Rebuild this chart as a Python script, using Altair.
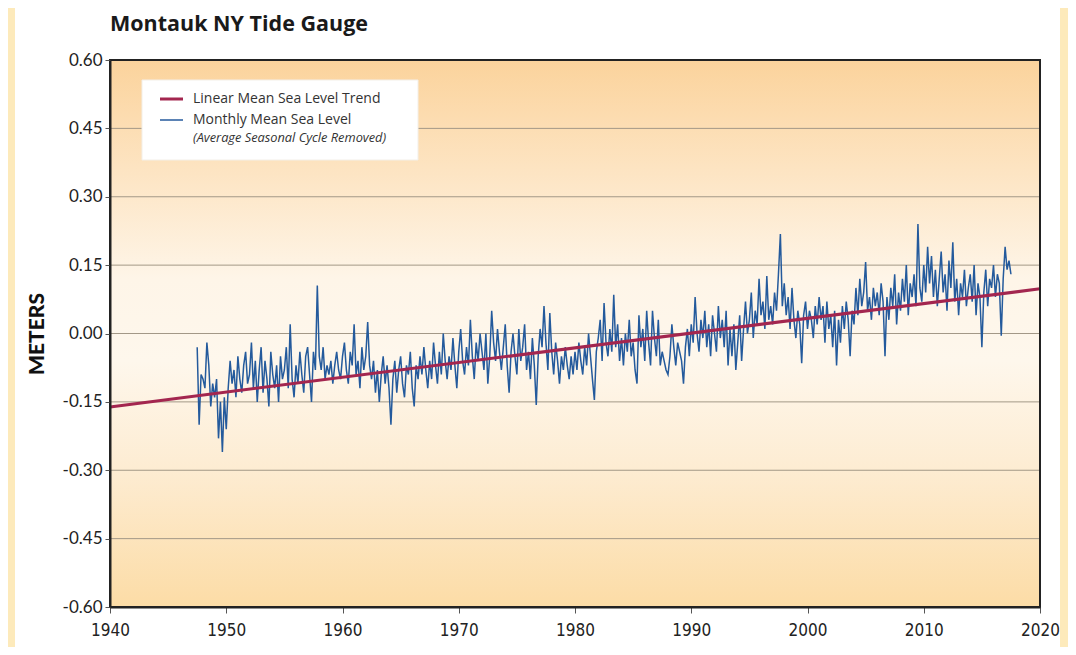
import altair as alt
import pandas as pd

# Monthly mean sea level (seasonal cycle removed), meters
# sampled every 1/6 year starting 1947.5
msl_start = 1947.5
msl_per_year = 6
msl = [
    -0.03, -0.20, -0.09,                          # 1947
    -0.10, -0.12, -0.02, -0.07, -0.16, -0.11,     # 1948
    -0.14, -0.10, -0.23, -0.15, -0.26, -0.14,     # 1949
    -0.21, -0.12, -0.06, -0.11, -0.08, -0.14,     # 1950
    -0.05, -0.10, -0.13, -0.07, -0.04, -0.11,     # 1951
    -0.09, -0.02, -0.12, -0.06, -0.15, -0.08,     # 1952
    -0.03, -0.13, -0.06, -0.10, -0.16, -0.04,     # 1953
    -0.09, -0.12, -0.07, -0.15, -0.05, -0.10,     # 1954
    -0.08, -0.03, -0.12, 0.02, -0.10, -0.14,      # 1955
    -0.07, -0.11, -0.04, -0.09, -0.13, -0.05,     # 1956
    -0.03, -0.09, -0.15, -0.04, -0.08, 0.105,     # 1957
    -0.05, -0.08, -0.03, -0.10, -0.07, -0.09,     # 1958
    -0.06, -0.11, -0.07, -0.04, -0.08, -0.10,     # 1959
    -0.05, -0.02, -0.08, -0.11, -0.04, -0.07,     # 1960
    0.02, -0.09, -0.06, -0.12, -0.03, -0.08,      # 1961
    -0.05, 0.025, -0.07, -0.10, -0.06, -0.13,     # 1962
    -0.08, -0.15, -0.09, -0.05, -0.11, -0.07,     # 1963
    -0.12, -0.20, -0.10, -0.06, -0.13, -0.08,     # 1964
    -0.05, -0.11, -0.14, -0.07, -0.09, -0.04,     # 1965
    -0.12, -0.16, -0.07, -0.10, -0.05, -0.09,     # 1966
    -0.03, -0.08, -0.12, -0.06, -0.10, -0.02,     # 1967
    -0.07, -0.11, -0.04, -0.09, 0.00, -0.06,      # 1968
    -0.10, -0.05, -0.08, -0.01, -0.07, -0.12,     # 1969
    -0.04, 0.01, -0.06, -0.09, -0.03, -0.07,      # 1970
    0.03, -0.05, -0.10, -0.02, -0.06, 0.00,       # 1971
    -0.04, -0.08, 0.00, -0.11, -0.05, 0.05,       # 1972
    -0.02, -0.06, 0.01, -0.04, -0.08, -0.03,      # 1973
    0.02, -0.07, -0.13, -0.04, 0.00, -0.05,       # 1974
    -0.09, 0.01, -0.06, -0.03, 0.02, -0.08,       # 1975
    -0.04, -0.10, -0.01, -0.07, -0.157, -0.05,    # 1976
    0.01, -0.03, 0.06, -0.02, -0.08, 0.045,       # 1977
    -0.04, -0.09, -0.02, -0.06, -0.11, -0.05,     # 1978
    -0.08, -0.03, -0.07, -0.10, -0.05, -0.09,     # 1979
    -0.04, -0.08, -0.02, -0.06, -0.09, -0.03,     # 1980
    -0.07, 0.00, -0.05, -0.10, -0.146, -0.04,     # 1981
    -0.01, 0.03, -0.06, 0.067, -0.02, -0.05,      # 1982
    0.01, -0.04, 0.085, -0.03, 0.02, -0.06,       # 1983
    -0.01, -0.07, 0.00, -0.04, 0.03, -0.05,       # 1984
    -0.02, -0.08, -0.11, 0.04, -0.03, 0.01,       # 1985
    -0.06, 0.05, -0.02, -0.07, 0.05, -0.01,       # 1986
    -0.05, 0.03, -0.07, -0.04, -0.06, -0.08,      # 1987
    -0.09, -0.05, 0.02, -0.03, -0.07, -0.02,      # 1988
    -0.04, -0.06, -0.11, -0.03, 0.01, -0.05,      # 1989
    0.02, -0.02, 0.08, 0.00, -0.04, 0.03,         # 1990
    -0.01, 0.05, -0.03, 0.02, -0.05, 0.04,        # 1991
    0.00, -0.04, 0.06, -0.01, 0.03, -0.03,        # 1992
    0.05, -0.07, 0.01, -0.05, 0.02, -0.08,        # 1993
    -0.02, 0.04, -0.06, 0.01, 0.07, 0.00,         # 1994
    0.03, 0.09, -0.01, 0.05, 0.02, 0.12,          # 1995
    0.04, 0.07, 0.01, 0.126, 0.03, 0.06,          # 1996
    0.02, 0.09, 0.05, 0.13, 0.218, 0.06,          # 1997
    0.11, 0.04, 0.08, 0.01, 0.10, 0.03,           # 1998
    -0.01, 0.05, 0.02, -0.065, 0.04, 0.07,        # 1999
    0.01, 0.05, 0.03, -0.01, 0.06, 0.02,          # 2000
    0.08, 0.03, 0.06, -0.02, 0.07, 0.01,          # 2001
    0.04, -0.03, 0.05, -0.07, 0.03, -0.02,        # 2002
    0.06, 0.01, 0.07, 0.03, -0.05, 0.05,          # 2003
    0.02, 0.10, 0.04, 0.12, 0.06, 0.09,           # 2004
    0.157, 0.05, 0.08, 0.03, 0.10, 0.06,          # 2005
    0.09, 0.04, 0.11, 0.07, -0.05, 0.08,          # 2006
    0.03, 0.10, 0.06, 0.13, 0.02, 0.09,           # 2007
    0.05, 0.12, 0.07, 0.15, 0.04, 0.11,           # 2008
    0.08, 0.13, 0.06, 0.24, 0.10, 0.07,           # 2009
    0.15, 0.09, 0.19, 0.11, 0.17, 0.08,           # 2010
    0.14, 0.06, 0.12, 0.18, 0.09, 0.13,           # 2011
    0.05, 0.16, 0.10, 0.20, 0.07, 0.12,           # 2012
    0.04, 0.11, 0.08, 0.14, 0.06, 0.10,           # 2013
    0.13, 0.07, 0.15, 0.04, 0.11, 0.08,           # 2014
    -0.03, 0.09, 0.14, 0.06, 0.12, 0.10,          # 2015
    0.15, 0.08, 0.13, 0.11, -0.005, 0.12,         # 2016
    0.19, 0.14, 0.16, 0.13,                       # 2017
]

# Linear mean sea level trend (end points)
trend_years = [1940, 2020]
trend_values = [-0.161, 0.098]

x_ticks = [1940, 1950, 1960, 1970, 1980, 1990, 2000, 2010, 2020]
y_ticks = [-0.60, -0.45, -0.30, -0.15, 0.00, 0.15, 0.30, 0.45, 0.60]

title_text = "Montauk NY Tide Gauge"
legend_trend = "Linear Mean Sea Level Trend"
legend_msl = "Monthly Mean Sea Level"
legend_note = "(Average Seasonal Cycle Removed)"

W, H = 930, 547
BLUE = "#245a9c"
RED = "#a3264f"
FONT = "Lato"
OPEN = "Open Sans"
NARROW = "DejaVu Sans Condensed, Liberation Sans Narrow, sans-serif"

df = pd.DataFrame({
    "year": [msl_start + i / msl_per_year for i in range(len(msl))],
    "msl": msl,
})
trend_df = pd.DataFrame({"year": trend_years, "msl": trend_values})
grid_df = pd.DataFrame({"v": y_ticks})
one = pd.DataFrame({"a": [0]})

xs = alt.Scale(domain=[1940, 2020], nice=False, zero=False)
ys = alt.Scale(domain=[-0.6, 0.6], nice=False, zero=False)

x_axis = alt.Axis(values=x_ticks, format="d", title=None, grid=False,
                  tickSize=6, tickColor="#555", tickWidth=1,
                  domainColor="#222", domainWidth=2,
                  labelFont=NARROW, labelFontSize=17, labelColor="#222",
                  labelPadding=9, labelFlush=False, zindex=1)
y_axis = alt.Axis(values=y_ticks, format=".2f", title="METERS", grid=False,
                  labelExpr="replace(datum.label, '\u2212', '-')",
                  tickSize=5, tickColor="#555", tickWidth=1,
                  domainColor="#222", domainWidth=2,
                  labelFont=FONT, labelFontSize=17, labelColor="#222",
                  labelPadding=3, labelFlush=False,
                  titleFont=FONT, titleFontSize=21, titleFontWeight=900,
                  titleColor="#111", titlePadding=15, zindex=1)

X = alt.X("year:Q", scale=xs, axis=x_axis)
Y = alt.Y("msl:Q", scale=ys, axis=y_axis)

panel = alt.Chart(one).mark_rect(fill="#ffffff").encode(
    x=alt.value(-95), x2=alt.value(950), y=alt.value(-60), y2=alt.value(600))

grad = alt.LinearGradient(
    gradient="linear", x1=0, x2=0, y1=0, y2=1,
    stops=[
        alt.GradientStop(offset=0.0, color="#fbd39c"),
        alt.GradientStop(offset=0.2, color="#fde4c2"),
        alt.GradientStop(offset=0.4, color="#fef5e8"),
        alt.GradientStop(offset=0.55, color="#fef7ec"),
        alt.GradientStop(offset=0.75, color="#fdecd2"),
        alt.GradientStop(offset=1.0, color="#fcdca6"),
    ])
bg = alt.Chart(one).mark_rect(fill=grad).encode(
    x=alt.value(0), x2=alt.value(W), y=alt.value(0), y2=alt.value(H))

grid = alt.Chart(grid_df).mark_rule(color="#a39887", strokeWidth=1).encode(
    y=alt.Y("v:Q", scale=ys, axis=y_axis))

leg_box = alt.Chart(one).mark_rect(fill="#ffffff", stroke="#f3efe8", strokeWidth=1).encode(
    x=alt.value(32), x2=alt.value(308), y=alt.value(20), y2=alt.value(100))
leg_red = alt.Chart(one).mark_rule(color=RED, strokeWidth=3).encode(
    x=alt.value(50), x2=alt.value(73), y=alt.value(39))
leg_blue = alt.Chart(one).mark_rule(color=BLUE, strokeWidth=1.5).encode(
    x=alt.value(50), x2=alt.value(73), y=alt.value(60))
leg_t1 = alt.Chart(one).mark_text(align="left", baseline="middle", font=OPEN,
                                  fontSize=14, color="#333").encode(
    x=alt.value(83), y=alt.value(39), text=alt.value(legend_trend))
leg_t2 = alt.Chart(one).mark_text(align="left", baseline="middle", font=OPEN,
                                  fontSize=14, color="#333").encode(
    x=alt.value(83), y=alt.value(60), text=alt.value(legend_msl))
leg_t3 = alt.Chart(one).mark_text(align="left", baseline="middle", font=OPEN,
                                  fontSize=12.8, fontStyle="italic", color="#333").encode(
    x=alt.value(83), y=alt.value(78), text=alt.value(legend_note))

line = alt.Chart(df).mark_line(color=BLUE, strokeWidth=1.5, strokeJoin="miter").encode(x=X, y=Y)
trend = alt.Chart(trend_df).mark_line(color=RED, strokeWidth=3).encode(x=X, y=Y)

border = alt.Chart(one).mark_rect(fillOpacity=0, stroke="#222", strokeWidth=2).encode(
    x=alt.value(0), x2=alt.value(W), y=alt.value(0), y2=alt.value(H))

title = alt.Chart(one).mark_text(align="left", baseline="alphabetic", font=OPEN,
                                 fontSize=21.5, fontWeight="bold", color="#1a1a1a").encode(
    x=alt.value(0), y=alt.value(-29), text=alt.value(title_text))

chart = alt.layer(
    panel, bg, grid, leg_box, leg_red, leg_blue, leg_t1, leg_t2, leg_t3,
    line, trend, border, title
).properties(
    width=W, height=H,
    background="#fdeabb",
    padding={"left": 102, "top": 52, "right": 28, "bottom": 40},
    autosize=alt.AutoSizeParams(type="none"),
).configure_view(strokeWidth=0)

chart.save("out.html", embed_options={"renderer": "svg", "actions": False})
